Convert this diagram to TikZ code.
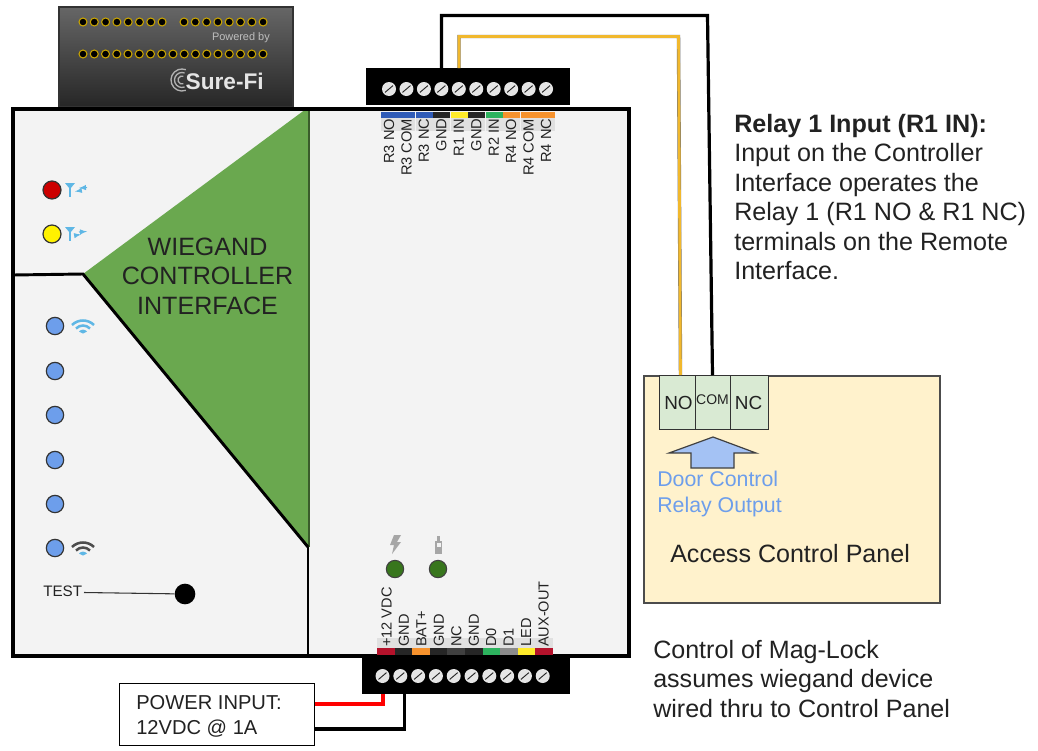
\documentclass[tikz,border=0pt]{standalone}
\usepackage{fontspec}
\setmainfont{Liberation Sans}
\usetikzlibrary{calc}
\definecolor{panelbg}{HTML}{F3F3F3}
\definecolor{wgreen}{HTML}{6AA84F}
\definecolor{ledblue}{HTML}{6D9EEB}
\definecolor{pale}{HTML}{FFF2CC}
\definecolor{termg}{HTML}{D9EAD3}
\definecolor{arrowb}{HTML}{A4C2F4}
\definecolor{wifiblue}{HTML}{5FB7E5}
\definecolor{txtblue}{HTML}{6D9EEB}
\definecolor{cred}{HTML}{B5122B}
\definecolor{corange}{HTML}{F6922D}
\definecolor{cgreen}{HTML}{2DB35E}
\definecolor{cblue}{HTML}{2F5BB7}
\definecolor{cyel}{HTML}{FFEB2A}
\definecolor{cgold}{HTML}{F1B82D}
\definecolor{pin}{HTML}{C9A400}
\definecolor{dgreen}{HTML}{38761D}
\definecolor{txt}{HTML}{222222}
\tikzset{
  led/.style={circle,draw=black!80,line width=.9pt,minimum size=13.5pt,inner sep=0pt},
  dled/.style={circle,fill=dgreen,draw=black!75,line width=.8pt,minimum size=13pt,inner sep=0pt},
  screw/.style={circle,fill=black!10,minimum size=10.5pt,inner sep=0pt},
  slot/.style={black!85,line width=.7pt},
  pinhole/.style={fill=black,draw=pin,line width=.8pt},
  termlab/.style={rotate=90,anchor=east,font=\fontsize{11}{12}\selectfont,text=txt,inner sep=0pt},
  botlab/.style={rotate=90,anchor=west,font=\fontsize{10.9}{12}\selectfont,text=txt,inner sep=0pt},
  body/.style={text=txt,align=left,inner sep=0pt},
  heavy/.style={line width=2.2pt,black},
  relaybox/.style={draw=black!80,fill=termg,line width=.9pt,minimum height=40.5pt,inner sep=0pt,anchor=north west},
}
\begin{document}
\begin{tikzpicture}[x=0.75pt,y=-0.75pt]
\useasboundingbox (0,0) rectangle (1038,750);
\fill[white] (0,0) rectangle (1038,750);
% shield board
\shade[top color=black!60,bottom color=black!85,draw=black!80,line width=.8pt] (59,7) rectangle (293,107);
\foreach \x in {0,...,7} \draw[pinhole] (83+11.3*\x,22) circle (4);
\foreach \x in {0,...,7} \draw[pinhole] (184+11.3*\x,22) circle (4);
\foreach \x in {0,...,16} \draw[pinhole] (83+11.25*\x,54) circle (4);
\node (pow) [anchor=east,inner sep=0pt,text=black!25,font=\fontsize{8.2}{9}\selectfont] at (270,38) {Powered by};
\node (sf) [anchor=east,inner sep=0pt,text=black!10,font=\bfseries\fontsize{17}{18}\selectfont] at (264,81) {Sure-Fi};
\foreach \r in {4,7.5,11} \draw[black!30,line width=1pt] (182,80) ++(70:\r) arc (70:290:\r);
% main body
\fill[panelbg] (13,109) rectangle (629,656);
\fill[wgreen] (83,274) -- (306,109) -- (308,109) -- (308,547) -- cycle;
\draw[black!45!wgreen,line width=1pt] (309,110) -- (309,547);
\draw[heavy] (13,275) -- (83,274) -- (308,547);
\draw[heavy] (308,547) -- (308,656);
\draw[line width=2.6pt] (13,109) rectangle (629,656);
\node (title) [font=\fontsize{18.8}{22.1}\selectfont,align=center,text=txt,inner sep=0pt] at (207.5,276.3) {WIEGAND\\CONTROLLER\\INTERFACE};
% top terminal block
\node (topblock) [fill=black,minimum width=153pt,minimum height=27.75pt,inner sep=0pt,anchor=north west] at (366,68) {};
\foreach \i in {0,...,9} {
  \node[screw] (ts\i) at (389+17.45*\i,89) {};
  \draw[slot] ($(ts\i)+(-4,3.4)$) -- ($(ts\i)+(4,-3.4)$);
}
\foreach \i/\c/\t in {0/cblue/R3 NO,1/cblue/R3 COM,2/cblue/R3 NC,3/black!85/GND,4/cyel/R1 IN,5/black!85/GND,6/cgreen/R2 IN,7/corange/R4 NO,8/corange/R4 COM,9/corange/R4 NC} {
  \fill[black!12] (381+17.45*\i,118) rectangle (398+17.45*\i,131);
  \fill[\c] (381+17.45*\i,112) rectangle (398+17.45*\i,118);
  \node[termlab] (tl\i) at (389+17.45*\i,118.5) {\t};
}
% bottom terminal block
\node (botblock) [fill=black,minimum width=156pt,minimum height=27pt,inner sep=0pt,anchor=north west] at (362,658) {};
\foreach \i in {0,...,9} {
  \node[screw] (bs\i) at (382.5+17.8*\i,676) {};
  \draw[slot] ($(bs\i)+(-4,3.4)$) -- ($(bs\i)+(4,-3.4)$);
}
\foreach \i/\c/\t in {0/cred/+12 VDC,1/black!85/GND,2/corange/BAT+,3/black!85/GND,4/black!75/NC,5/black!85/GND,6/cgreen/D0,7/black!45/D1,8/cyel/LED,9/cred/AUX-OUT} {
  \fill[black!12] (377+17.6*\i,638) rectangle (394.5+17.6*\i,648);
  \fill[\c] (377+17.6*\i,648) rectangle (394.5+17.6*\i,655);
  \node[botlab] (bl\i) at (386.5+17.45*\i,647) {\t};
}
% LEDs left
\node[led,fill=red!80!black] (lr) at (52,190) {};
\node[led,fill=yellow] (ly) at (52,234) {};
\foreach \y/\n in {326/a,371/b,415/c,460/d,504/e,548/f} \node[led,fill=ledblue,minimum size=13pt] (l\n) at (55,\y) {};
% antenna icons
\foreach \y/\tp in {190/<-,234/->} {
  \draw[wifiblue,line width=1.1pt] (70,\y-6) -- (70,\y+7);
  \fill[wifiblue] (65,\y-7) -- (75,\y-7) -- (70,\y-1) -- cycle;
  \draw[wifiblue,line width=.8pt,\tp,>=latex] (75,\y+1.5) -- (81,\y+0.5);
  \draw[wifiblue,line width=.8pt,\tp,>=latex] (79,\y-2) -- (87,\y-2.5);
}
% wifi icons
\foreach \y/\cc in {326/wifiblue,548/black!70} {
  \draw[\cc,line width=1.9pt] (72,\y-1) .. controls (78,\y-7) and (88,\y-7) .. (94,\y-1);
  \draw[\cc,line width=1.9pt] (76,\y+2.5) .. controls (80,\y-1.5) and (86,\y-1.5) .. (90,\y+2.5);
  \fill[wifiblue] (79,\y+5.5) .. controls (81,\y+3) and (85,\y+3) .. (87,\y+5.5) -- (83,\y+7.5) -- cycle;
}
% test
\node (test) [anchor=west,inner sep=0pt,text=txt,font=\fontsize{11.4}{13}\selectfont] at (43,591.5) {TEST};
\node[circle,fill=black,minimum size=15.5pt,inner sep=0pt] (tb) at (185,594) {};
\coordinate (testfree) at (84,592.5);
\draw[black!80,line width=.8pt] (testfree) -- (tb);
% green LEDs
\node[dled] (g1) at (395,569) {};
\node[dled] (g2) at (438,569) {};
\fill[black!35] (394,535) -- (401,535) -- (397,542) -- (401,542) -- (392,554) -- (394,545) -- (390,545) -- cycle;
\fill[black!35] (435,541) rectangle (442,554);
\fill[black!35] (437,536) rectangle (440,541);
\fill[panelbg] (436.5,543) rectangle (440.5,547);
% panel
\fill[pale,draw=black!70,line width=.8pt] (644,376) rectangle (940,603);
\node (no) [relaybox,minimum width=27pt] at (659,375) {};
\node (com) [relaybox,minimum width=26.25pt] at (695,375) {};
\node (nc) [relaybox,minimum width=28.5pt] at (730,375) {};
\node (nolab) [inner sep=0pt,text=txt,font=\fontsize{14.2}{16}\selectfont] at (678.5,403) {NO};
\node (comlab) [inner sep=0pt,text=txt,font=\fontsize{10.5}{12}\selectfont] at (712.5,400) {COM};
\node (nclab) [inner sep=0pt,text=txt,font=\fontsize{14.2}{16}\selectfont] at (748.5,403) {NC};
\draw[fill=arrowb,draw=black!75,line width=.9pt] (669,453) -- (713,437) -- (756,453) -- (734,453) -- (734,468) -- (691,468) -- (691,453) -- cycle;
\node (dc) [anchor=north west,body,text=txtblue,font=\fontsize{16}{19}\selectfont] at (657,471) {Door Control\\Relay Output};
\node (acp) [anchor=west,inner sep=0pt,text=txt,font=\fontsize{18.8}{20}\selectfont] at (670,554) {Access Control Panel};
% wires
\draw[black!55,line width=2.6pt] (459,68) -- (459,36.5) -- (678.5,36.5) -- (680.5,375);
\draw[cgold,line width=2pt] (459,68) -- (459,36.5) -- (678.5,36.5) -- (680.5,375);
\draw[black,line width=2.4pt] (441.5,68) -- (441.5,15.5) -- (707.5,15.5) -- (712.5,375);
% power
\node (pwr) [draw=black,line width=.8pt,fill=white,minimum width=146pt,minimum height=46.5pt,anchor=north west,inner sep=0pt] at (119,683) {};
\node (pw) [anchor=west,inner sep=0pt,text=txt,font=\fontsize{15.1}{18.75}\selectfont,align=left] at (136,716) {POWER INPUT:\\12VDC @ 1A};
\draw[red,line width=2.5pt] (pwr.east |- 0,704) -- (383,704) -- (383,694);
\draw[black,line width=2.4pt] (pwr.east |- 0,729) -- (404.5,729) -- (404.5,694);
% notes
\node (r1) [anchor=north west,body,font=\fontsize{18.85}{22.1}\selectfont] at (734,114) {\textbf{Relay 1 Input (R1 IN):}\\Input on the Controller\\Interface operates the\\Relay 1 (R1 NO \& R1 NC)\\terminals on the Remote\\Interface.};
\node (mag) [anchor=north west,body,font=\fontsize{18.8}{22}\selectfont] at (653,640) {Control of Mag-Lock\\assumes wiegand device\\wired thru to Control Panel};
\end{tikzpicture}
\end{document}
